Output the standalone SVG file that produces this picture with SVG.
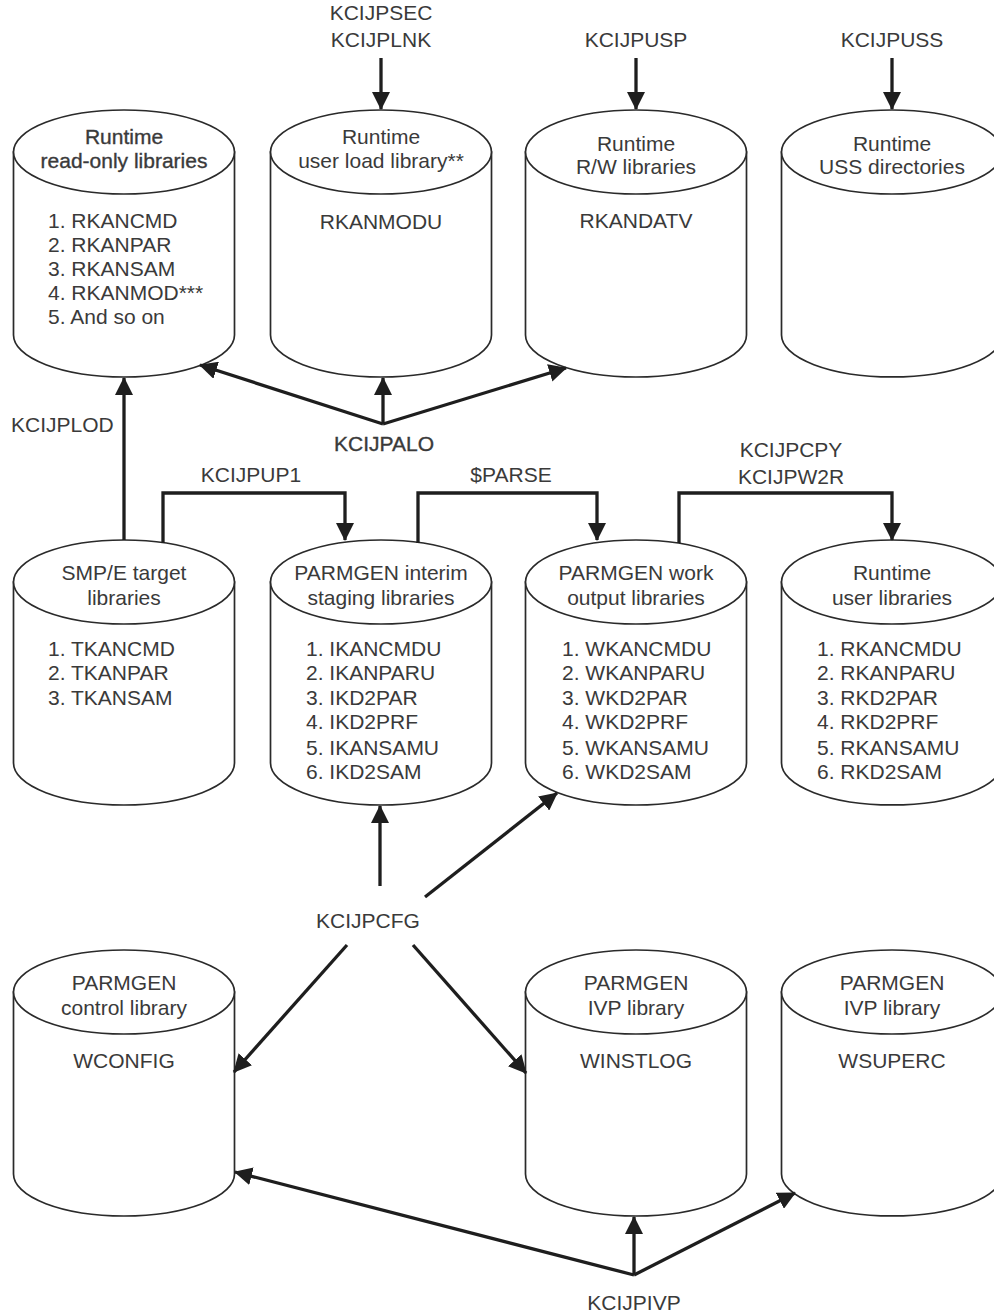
<svg xmlns="http://www.w3.org/2000/svg" width="994" height="1314" viewBox="0 0 994 1314">
<style>
.cyl{fill:#fff;stroke:#2a2a2a;stroke-width:1.7}
text{font-family:"Liberation Sans",Arial,sans-serif;font-size:21px;fill:#3a3a3a}
.c{text-anchor:middle}
.b{stroke:#3a3a3a;stroke-width:0.35}
.ln{fill:none;stroke:#1e1e1e;stroke-width:3.3;marker-end:url(#ah)}
</style>
<defs>
<marker id="ah" markerUnits="userSpaceOnUse" markerWidth="18" markerHeight="18" viewBox="0 0 18 18" refX="17" refY="9" orient="auto">
<path d="M0,0 L18,9 L0,18 Z" fill="#1e1e1e"/>
</marker>
</defs>
<rect width="994" height="1314" fill="#fff"/>

<g id="rt-ro">
<path class="cyl" d="M13.5,152 V335 A110.5,42 0 0 0 234.5,335 V152 Z"/>
<ellipse class="cyl" cx="124" cy="152" rx="110.5" ry="42"/>
<text class="c b" x="124" y="144">Runtime</text>
<text class="c b" x="124" y="168">read-only libraries</text>
<text x="48" y="228">1. RKANCMD</text>
<text x="48" y="252">2. RKANPAR</text>
<text x="48" y="276">3. RKANSAM</text>
<text x="48" y="300">4. RKANMOD***</text>
<text x="48" y="324">5. And so on</text>
</g>
<g id="rt-load">
<path class="cyl" d="M270.5,152 V335 A110.5,42 0 0 0 491.5,335 V152 Z"/>
<ellipse class="cyl" cx="381" cy="152" rx="110.5" ry="42"/>
<text class="c" x="381" y="144">Runtime</text>
<text class="c" x="381" y="168">user load library**</text>
<text class="c" x="381" y="229">RKANMODU</text>
</g>
<g id="rt-rw">
<path class="cyl" d="M525.5,152 V335 A110.5,42 0 0 0 746.5,335 V152 Z"/>
<ellipse class="cyl" cx="636" cy="152" rx="110.5" ry="42"/>
<text class="c" x="636" y="151">Runtime</text>
<text class="c" x="636" y="174">R/W libraries</text>
<text class="c" x="636" y="228">RKANDATV</text>
</g>
<g id="rt-uss">
<path class="cyl" d="M781.5,152 V335 A110.5,42 0 0 0 1002.5,335 V152 Z"/>
<ellipse class="cyl" cx="892" cy="152" rx="110.5" ry="42"/>
<text class="c" x="892" y="151">Runtime</text>
<text class="c" x="892" y="174">USS directories</text>
</g>

<g id="smpe">
<path class="cyl" d="M13.5,582 V763 A110.5,42 0 0 0 234.5,763 V582 Z"/>
<ellipse class="cyl" cx="124" cy="582" rx="110.5" ry="42"/>
<text class="c" x="124" y="580">SMP/E target</text>
<text class="c" x="124" y="605">libraries</text>
<text x="48" y="656">1. TKANCMD</text>
<text x="48" y="680">2. TKANPAR</text>
<text x="48" y="705">3. TKANSAM</text>
</g>
<g id="interim">
<path class="cyl" d="M270.5,582 V763 A110.5,42 0 0 0 491.5,763 V582 Z"/>
<ellipse class="cyl" cx="381" cy="582" rx="110.5" ry="42"/>
<text class="c" x="381" y="580">PARMGEN interim</text>
<text class="c" x="381" y="605">staging libraries</text>
<text x="306" y="656">1. IKANCMDU</text>
<text x="306" y="680">2. IKANPARU</text>
<text x="306" y="705">3. IKD2PAR</text>
<text x="306" y="729">4. IKD2PRF</text>
<text x="306" y="755">5. IKANSAMU</text>
<text x="306" y="779">6. IKD2SAM</text>
</g>
<g id="work">
<path class="cyl" d="M525.5,582 V763 A110.5,42 0 0 0 746.5,763 V582 Z"/>
<ellipse class="cyl" cx="636" cy="582" rx="110.5" ry="42"/>
<text class="c" x="636" y="580">PARMGEN work</text>
<text class="c" x="636" y="605">output libraries</text>
<text x="562" y="656">1. WKANCMDU</text>
<text x="562" y="680">2. WKANPARU</text>
<text x="562" y="705">3. WKD2PAR</text>
<text x="562" y="729">4. WKD2PRF</text>
<text x="562" y="755">5. WKANSAMU</text>
<text x="562" y="779">6. WKD2SAM</text>
</g>
<g id="rt-user">
<path class="cyl" d="M781.5,582 V763 A110.5,42 0 0 0 1002.5,763 V582 Z"/>
<ellipse class="cyl" cx="892" cy="582" rx="110.5" ry="42"/>
<text class="c" x="892" y="580">Runtime</text>
<text class="c" x="892" y="605">user libraries</text>
<text x="817" y="656">1. RKANCMDU</text>
<text x="817" y="680">2. RKANPARU</text>
<text x="817" y="705">3. RKD2PAR</text>
<text x="817" y="729">4. RKD2PRF</text>
<text x="817" y="755">5. RKANSAMU</text>
<text x="817" y="779">6. RKD2SAM</text>
</g>

<g id="wconfig">
<path class="cyl" d="M13.5,992 V1174 A110.5,42 0 0 0 234.5,1174 V992 Z"/>
<ellipse class="cyl" cx="124" cy="992" rx="110.5" ry="42"/>
<text class="c" x="124" y="990">PARMGEN</text>
<text class="c" x="124" y="1015">control library</text>
<text class="c" x="124" y="1068">WCONFIG</text>
</g>
<g id="winstlog">
<path class="cyl" d="M525.5,992 V1174 A110.5,42 0 0 0 746.5,1174 V992 Z"/>
<ellipse class="cyl" cx="636" cy="992" rx="110.5" ry="42"/>
<text class="c" x="636" y="990">PARMGEN</text>
<text class="c" x="636" y="1015">IVP library</text>
<text class="c" x="636" y="1068">WINSTLOG</text>
</g>
<g id="wsuperc">
<path class="cyl" d="M781.5,992 V1174 A110.5,42 0 0 0 1002.5,1174 V992 Z"/>
<ellipse class="cyl" cx="892" cy="992" rx="110.5" ry="42"/>
<text class="c" x="892" y="990">PARMGEN</text>
<text class="c" x="892" y="1015">IVP library</text>
<text class="c" x="892" y="1068">WSUPERC</text>
</g>

<g id="connectors">
<path class="ln" d="M381,58 V109"/>
<path class="ln" d="M636,58 V109"/>
<path class="ln" d="M892,58 V109"/>
<path class="ln" d="M124,540 V378"/>
<path class="ln" d="M383,424 V378"/>
<path class="ln" d="M383,424 L200,365"/>
<path class="ln" d="M383,424 L566,368"/>
<path class="ln" d="M163,543 V493 H345 V540"/>
<path class="ln" d="M418,543 V493 H597 V540"/>
<path class="ln" d="M679,543 V493 H892 V540"/>
<path class="ln" d="M380,886 V806"/>
<path class="ln" d="M425,897 L557,793"/>
<path class="ln" d="M347,945 L234,1072"/>
<path class="ln" d="M413,945 L526,1073"/>
<path class="ln" d="M634,1275 L235,1172"/>
<path class="ln" d="M634,1275 V1217"/>
<path class="ln" d="M634,1275 L795,1193"/>
</g>

<g id="labels">
<text class="c" x="381" y="20">KCIJPSEC</text>
<text class="c" x="381" y="47">KCIJPLNK</text>
<text class="c" x="636" y="47">KCIJPUSP</text>
<text class="c" x="892" y="47">KCIJPUSS</text>
<text x="11" y="432">KCIJPLOD</text>
<text class="c b" x="384" y="451">KCIJPALO</text>
<text class="c" x="251" y="482">KCIJPUP1</text>
<text class="c" x="511" y="482">$PARSE</text>
<text class="c" x="791" y="457">KCIJPCPY</text>
<text class="c" x="791" y="484">KCIJPW2R</text>
<text class="c" x="368" y="928">KCIJPCFG</text>
<text class="c" x="634" y="1310">KCIJPIVP</text>
</g>
</svg>
